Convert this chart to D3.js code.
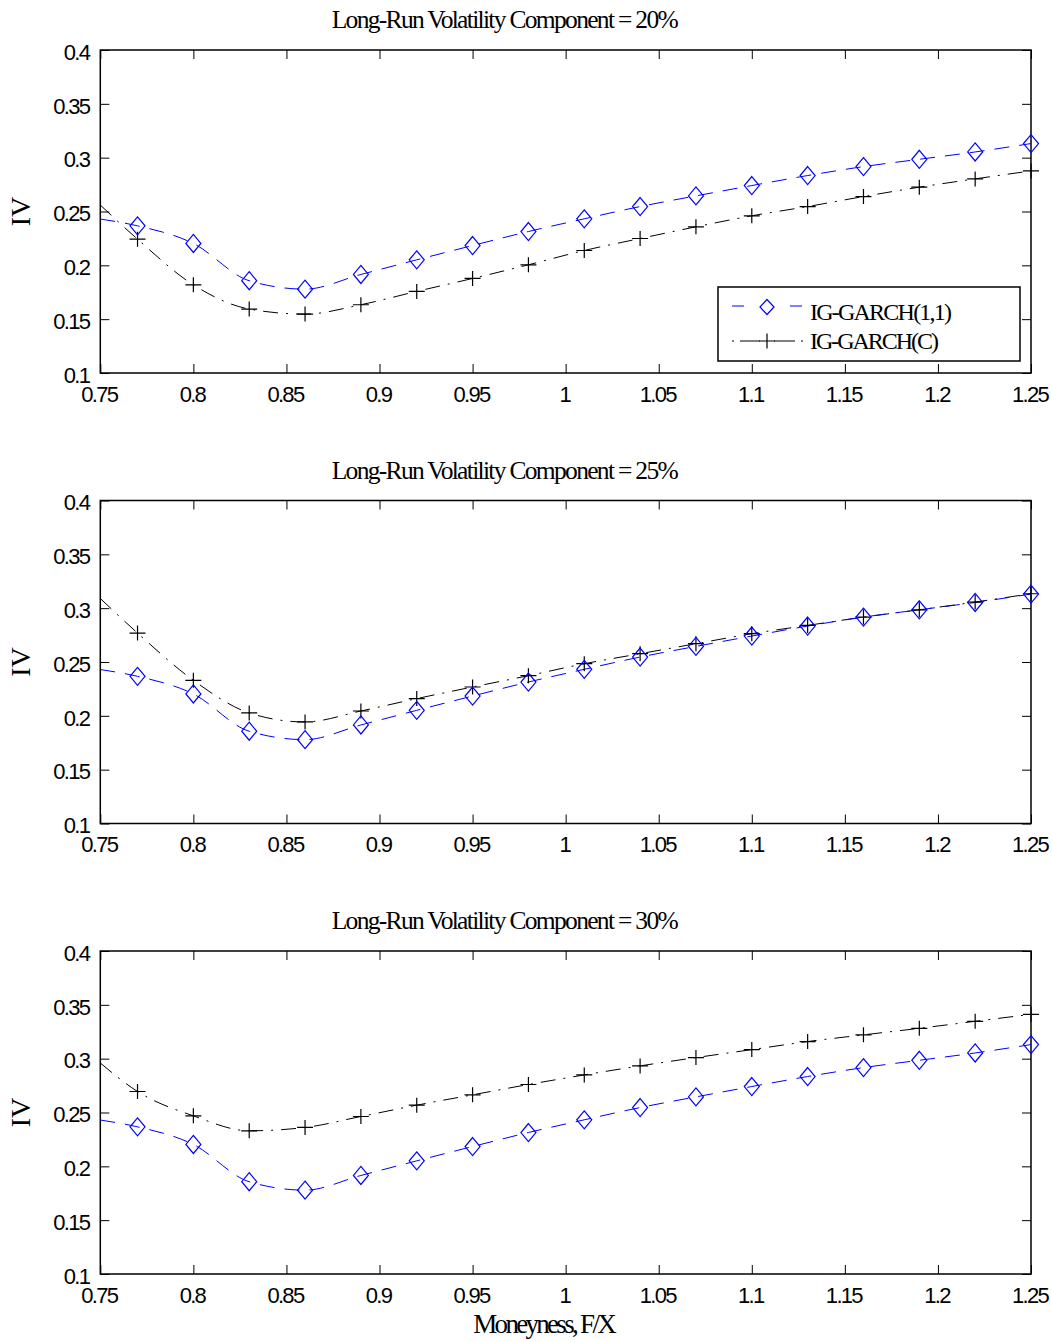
<!DOCTYPE html>
<html><head><meta charset="utf-8">
<script src="https://cdn.jsdelivr.net/npm/d3@7"></script>
<style>
body{margin:0;background:#fff}
svg{display:block}
.tick text{font-family:"Liberation Sans",Arial,sans-serif;font-size:22px;letter-spacing:-1.7px;fill:#000}
.ser{font-family:"Liberation Serif","Times New Roman",serif;fill:#000}
</style>
</head><body>
<svg id="c" width="1052" height="1341"></svg>
<script>
// ---- data ----
const moneyness = [0.75, 0.77, 0.80, 0.83, 0.86, 0.89, 0.92, 0.95, 0.98, 1.01, 1.04, 1.07, 1.10, 1.13, 1.16, 1.19, 1.22, 1.25];
const panelTitles = ["Long-Run Volatility Component = 20%", "Long-Run Volatility Component = 25%", "Long-Run Volatility Component = 30%"];
const seriesNames = ["IG-GARCH(1,1)", "IG-GARCH(C)"];
// IG-GARCH(1,1): identical in all three panels
const ivGarch11 = [0.243, 0.2367, 0.2203, 0.1857, 0.1779, 0.1915, 0.2051, 0.2184, 0.2314, 0.2432, 0.2546, 0.2645, 0.2741, 0.2834, 0.2917, 0.2985, 0.3053, 0.3131];
// IG-GARCH(C) by long-run volatility component
const ivGarchC20 = [0.256, 0.2243, 0.1819, 0.1594, 0.1547, 0.1634, 0.1758, 0.1878, 0.2005, 0.2138, 0.2249, 0.2358, 0.2460, 0.2546, 0.2639, 0.2726, 0.2803, 0.2877];
const ivGarchC25 = [0.309, 0.2769, 0.2330, 0.2027, 0.1943, 0.2045, 0.2160, 0.2268, 0.2373, 0.2484, 0.2577, 0.2670, 0.2763, 0.2840, 0.2917, 0.2985, 0.3057, 0.3134];
const ivGarchC30 = [0.296, 0.2695, 0.2469, 0.2330, 0.2361, 0.2463, 0.2568, 0.2664, 0.2760, 0.2849, 0.2933, 0.3010, 0.3084, 0.3159, 0.3221, 0.3282, 0.3347, 0.3412];
const xTicks = [0.75, 0.8, 0.85, 0.9, 0.95, 1, 1.05, 1.1, 1.15, 1.2, 1.25];
const xTickLabels = ["0.75", "0.8", "0.85", "0.9", "0.95", "1", "1.05", "1.1", "1.15", "1.2", "1.25"];
const yTicks = [0.1, 0.15, 0.2, 0.25, 0.3, 0.35, 0.4];
const yTickLabels = ["0.1", "0.15", "0.2", "0.25", "0.3", "0.35", "0.4"];
const xLabel = "Moneyness, F/X";
const yLabel = "IV";

const panels = [
  {title: panelTitles[0], a: ivGarch11, c: ivGarchC20, legend: true},
  {title: panelTitles[1], a: ivGarch11, c: ivGarchC25, legend: false},
  {title: panelTitles[2], a: ivGarch11, c: ivGarchC30, legend: false}
];

// ---- layout ----
const L = 100.3, R = 1031, H = 323, tops = [50, 500.5, 951];
const svg = d3.select("#c");
const x = d3.scaleLinear().domain([0.75, 1.25]).range([L, R]);
const y = d3.scaleLinear().domain([0.1, 0.4]).range([H, 0]);
const BLUE = "#0000ff";
const diamond = "M0,-9L7.5,0L0,9L-7.5,0Z";
const plus = "M-8,0H8M0,-7.5V7.5";
const line = d3.line().x(d => x(d[0])).y(d => y(d[1])).curve(d3.curveMonotoneX);

panels.forEach((p, pi) => {
  const top = tops[pi];
  const g = svg.append("g").attr("transform", `translate(0,${top})`);

  // title
  g.append("text").attr("class", "ser").attr("x", 331.7).attr("y", -21.7)
    .attr("font-size", 25.5).attr("textLength", 347).attr("lengthAdjust", "spacing")
    .text(p.title);

  // axes (ticks inward)
  const bx = g.append("g").attr("transform", `translate(0,${H})`)
    .call(d3.axisBottom(x).tickValues(xTicks).tickFormat((d, i) => xTickLabels[i]).tickSizeInner(-9).tickSizeOuter(0).tickPadding(13));
  bx.selectAll("text").attr("dx", "-1.5");
  g.append("g").call(d3.axisTop(x).tickValues(xTicks).tickFormat("").tickSizeInner(-9).tickSizeOuter(0));
  const ly = g.append("g").attr("transform", `translate(${L},0)`)
    .call(d3.axisLeft(y).tickValues(yTicks).tickFormat((d, i) => yTickLabels[i]).tickSizeInner(-9).tickSizeOuter(0).tickPadding(11));
  ly.selectAll("text").attr("dy", "0.42em");
  g.append("g").attr("transform", `translate(${R},0)`)
    .call(d3.axisRight(y).tickValues(yTicks).tickFormat("").tickSizeInner(-9).tickSizeOuter(0));
  g.selectAll(".domain").remove();
  g.selectAll(".tick line").attr("stroke", "#000").attr("stroke-width", 1);
  g.append("rect").attr("x", L).attr("y", 0).attr("width", R - L).attr("height", H)
    .attr("fill", "none").attr("stroke", "#000").attr("stroke-width", 1.5);

  // y label
  g.append("text").attr("class", "ser").attr("font-size", 28).attr("text-anchor", "middle")
    .attr("transform", `translate(30,${H / 2}) rotate(-90)`).text(yLabel);

  // series
  const dA = moneyness.map((m, i) => [m, p.a[i]]);
  const dC = moneyness.map((m, i) => [m, p.c[i]]);
  g.append("path").attr("d", line(dC)).attr("fill", "none").attr("stroke", "#000")
    .attr("stroke-width", 1).attr("stroke-dasharray", "15,8,2,8");
  g.append("path").attr("d", line(dA)).attr("fill", "none").attr("stroke", BLUE)
    .attr("stroke-width", 1).attr("stroke-dasharray", "15,10");
  g.selectAll(".mc").data(dC.slice(1)).join("path").attr("class", "mc")
    .attr("transform", d => `translate(${x(d[0])},${y(d[1])})`)
    .attr("d", plus).attr("fill", "none").attr("stroke", "#000").attr("stroke-width", 1.2);
  g.selectAll(".ma").data(dA.slice(1)).join("path").attr("class", "ma")
    .attr("transform", d => `translate(${x(d[0])},${y(d[1])})`)
    .attr("d", diamond).attr("fill", "none").attr("stroke", BLUE).attr("stroke-width", 1.2);

  if (p.legend) {
    const lg = svg.append("g");
    lg.append("rect").attr("x", 718).attr("y", 287).attr("width", 302).attr("height", 74)
      .attr("fill", "#fff").attr("stroke", "#000").attr("stroke-width", 1.5);
    // row 1
    lg.append("line").attr("x1", 732).attr("x2", 744).attr("y1", 306).attr("y2", 306).attr("stroke", BLUE);
    lg.append("line").attr("x1", 790).attr("x2", 802).attr("y1", 306).attr("y2", 306).attr("stroke", BLUE);
    lg.append("path").attr("transform", "translate(767,307)").attr("d", "M0,-7.5L7,0L0,7.5L-7,0Z")
      .attr("fill", "none").attr("stroke", BLUE).attr("stroke-width", 1.2);
    lg.append("text").attr("class", "ser").attr("x", 810).attr("y", 320).attr("font-size", 24)
      .attr("textLength", 142).attr("lengthAdjust", "spacing").text(seriesNames[0]);
    // row 2
    lg.append("line").attr("x1", 732).attr("x2", 734).attr("y1", 341).attr("y2", 341).attr("stroke", "#000");
    lg.append("line").attr("x1", 740).attr("x2", 760).attr("y1", 341).attr("y2", 341).attr("stroke", "#000");
    lg.append("line").attr("x1", 774).attr("x2", 795).attr("y1", 341).attr("y2", 341).attr("stroke", "#000");
    lg.append("line").attr("x1", 801).attr("x2", 803).attr("y1", 341).attr("y2", 341).attr("stroke", "#000");
    lg.append("path").attr("transform", "translate(767,341)").attr("d", plus)
      .attr("fill", "none").attr("stroke", "#000").attr("stroke-width", 1.2);
    lg.append("text").attr("class", "ser").attr("x", 810).attr("y", 349).attr("font-size", 24)
      .attr("textLength", 129).attr("lengthAdjust", "spacing").text(seriesNames[1]);
  }
});

// x-axis label
svg.append("text").attr("class", "ser").attr("x", 473.3).attr("y", 1333.3).attr("font-size", 27)
  .attr("textLength", 143.4).attr("lengthAdjust", "spacing").text(xLabel);
</script>
</body></html>
